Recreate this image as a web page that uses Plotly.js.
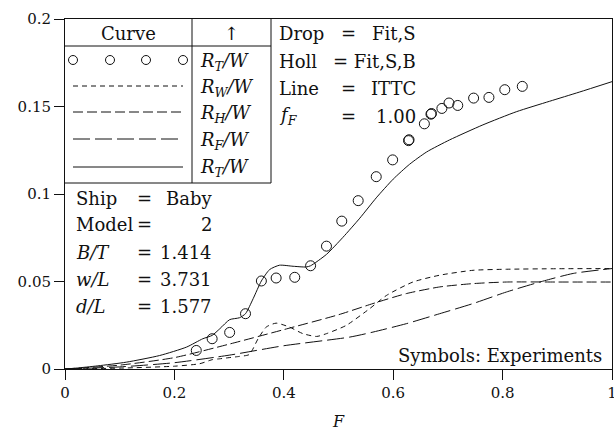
<!DOCTYPE html>
<html><head><meta charset="utf-8">
<script src="https://cdn.plot.ly/plotly-3.0.1.min.js"></script>
<style>body{margin:0;background:#fff}#c{width:614px;height:435px}</style>
</head><body><div id="c"></div>
<script>
// ---- data ----
const expF = [0.240, 0.269, 0.301, 0.330, 0.359, 0.386, 0.420, 0.449, 0.478, 0.506, 0.536, 0.569, 0.599, 0.628, 0.629, 0.657, 0.669, 0.670, 0.689, 0.702, 0.718, 0.747, 0.775, 0.804, 0.836];
const expR = [0.0106, 0.0173, 0.0209, 0.0316, 0.0503, 0.0520, 0.0524, 0.0590, 0.0702, 0.0845, 0.0962, 0.1099, 0.1195, 0.1305, 0.1310, 0.1401, 0.1456, 0.1460, 0.1489, 0.1520, 0.1506, 0.1548, 0.1552, 0.1596, 0.1615];

const totF = [0, 0.02, 0.06, 0.112, 0.173, 0.222, 0.252, 0.269, 0.283, 0.301, 0.319, 0.330, 0.344, 0.359, 0.374, 0.392, 0.417, 0.441, 0.449, 0.478, 0.508, 0.539, 0.569, 0.600, 0.630, 0.661, 0.703, 0.764, 0.825, 0.886, 0.940, 1.0];
const totR = [0, 0.0005, 0.0018, 0.0039, 0.0077, 0.0125, 0.0173, 0.0192, 0.0230, 0.0282, 0.0293, 0.0316, 0.0402, 0.0503, 0.0568, 0.0593, 0.0587, 0.0583, 0.0590, 0.0655, 0.0752, 0.0862, 0.0978, 0.1085, 0.1170, 0.1240, 0.1309, 0.1395, 0.1470, 0.1530, 0.1582, 0.1642];

const rwF = [0, 0.1, 0.2, 0.246, 0.27, 0.282, 0.30, 0.319, 0.337, 0.353, 0.368, 0.386, 0.41, 0.435, 0.46, 0.478, 0.514, 0.557, 0.588, 0.636, 0.685, 0.746, 0.807, 0.9, 1.0];
const rwR = [0, 0.0005, 0.0016, 0.0030, 0.0054, 0.0058, 0.0065, 0.0072, 0.0083, 0.0173, 0.0240, 0.0262, 0.0240, 0.0202, 0.0186, 0.0202, 0.0249, 0.0345, 0.0421, 0.0497, 0.0536, 0.0564, 0.0570, 0.0573, 0.0574];

const rhF = [0, 0.1, 0.2, 0.3, 0.4, 0.5, 0.563, 0.624, 0.685, 0.746, 0.807, 0.9, 1.0];
const rhR = [0, 0.0022, 0.0065, 0.0142, 0.0225, 0.0310, 0.0374, 0.0431, 0.0469, 0.0488, 0.0497, 0.0497, 0.0497];

const rfF = [0, 0.1, 0.2, 0.3, 0.4, 0.52, 0.563, 0.624, 0.685, 0.746, 0.807, 0.868, 0.929, 1.0];
const rfR = [0, 0.0012, 0.0036, 0.0079, 0.0133, 0.0182, 0.0211, 0.0259, 0.0316, 0.0374, 0.0440, 0.0497, 0.0546, 0.0574];

const legendLabels = ['<i>R</i><sub><i>T</i></sub><i>/W</i>', '<i>R</i><sub><i>W</i></sub><i>/W</i>', '<i>R</i><sub><i>H</i></sub><i>/W</i>', '<i>R</i><sub><i>F</i></sub><i>/W</i>', '<i>R</i><sub><i>T</i></sub><i>/W</i>'];
const rightNames = ['Drop', 'Holl', 'Line', '<i>f</i><sub><i>F</i></sub>'];
const rightVals = ['Fit,S', '= Fit,S,B', 'ITTC', '1.00'];
const leftNames = ['Ship', 'Model', '<i>B/T</i>', '<i>w/L</i>', '<i>d/L</i>'];
const leftVals = ['Baby', '2', '1.414', '3.731', '1.577'];

// ---- layout helpers (pixel -> paper) ----
const L = 65, R = 2, T = 19, B = 66, W = 614, H = 435;
const pw = W - L - R, ph = H - T - B;
const px = v => (v - L) / pw;
const py = v => (H - B - v) / ph;
const FONT = 'DejaVu Serif';
const col = '#111';

const dashW = '5px,4px', dashH = '10px,4px', dashF = '17px,5px';

const traces = [
  {x: totF, y: totR, mode: 'lines', line: {color: col, width: 1, shape: 'spline', smoothing: 0.6}, hoverinfo: 'skip'},
  {x: rwF, y: rwR, mode: 'lines', line: {color: col, width: 1, dash: dashW, shape: 'spline', smoothing: 0.6}, hoverinfo: 'skip'},
  {x: rhF, y: rhR, mode: 'lines', line: {color: col, width: 1, dash: dashH, shape: 'spline', smoothing: 0.6}, hoverinfo: 'skip'},
  {x: rfF, y: rfR, mode: 'lines', line: {color: col, width: 1, dash: dashF, shape: 'spline', smoothing: 0.6}, hoverinfo: 'skip'},
  {x: expF, y: expR, mode: 'markers', marker: {symbol: 'circle-open', size: 10, color: col, line: {width: 1, color: col}}, hoverinfo: 'skip'}
];

const shapes = [];
const line = (x0, y0, x1, y1, dash) => shapes.push({type: 'line', xref: 'paper', yref: 'paper', x0: px(x0), y0: py(y0), x1: px(x1), y1: py(y1), line: {color: col, width: 1, dash: dash || 'solid'}});
// table frame
line(192, 19, 192, 183);
line(271, 19, 271, 183);
line(65, 46, 271, 46);
line(65, 183, 271, 183);
// legend samples
[73, 110, 146, 183].forEach(cx => shapes.push({type: 'circle', xref: 'paper', yref: 'paper', xsizemode: 'pixel', ysizemode: 'pixel', xanchor: px(cx), yanchor: py(60), x0: -4.5, x1: 4.5, y0: -4.5, y1: 4.5, line: {color: col, width: 1}}));
line(73, 86, 183, 86, dashW);
line(73, 112, 183, 112, dashH);
line(73, 139, 183, 139, dashF);
line(73, 167, 183, 167);

const annotations = [];
const ann = (text, x, y, xa, size) => annotations.push({text: text, xref: 'paper', yref: 'paper', x: px(x), y: py(y), xanchor: xa, yanchor: 'middle', showarrow: false, font: {family: FONT, size: size || 18, color: col}});
ann('Curve', 128, 33, 'center');
ann('↑', 231, 33, 'center');
const rowY = [62, 88, 114, 141, 168];
legendLabels.forEach((t, i) => ann(t, 198, rowY[i], 'left'));
const rY = [34, 61, 88, 116];
rightNames.forEach((t, i) => ann(t, 277, rY[i], 'left'));
rightVals.forEach((t, i) => { ann(t, 418, rY[i], 'right'); if (i !== 1) ann('=', 348, rY[i], 'center'); });
const lY = [198, 225, 252, 279, 306];
leftNames.forEach((t, i) => ann(t, 74, lY[i], 'left'));
leftVals.forEach((t, i) => { ann(t, 214, lY[i], 'right'); ann('=', 144, lY[i], 'center'); });
ann('Symbols: Experiments', 604, 355, 'right');

const axisCommon = {showline: true, mirror: true, linecolor: col, linewidth: 1, ticks: 'outside', ticklen: 10, tickcolor: col, tickwidth: 1, showgrid: false, zeroline: false, ticklabeloverflow: 'allow', tickfont: {family: FONT, size: 15, color: col}};

const layout = {
  width: W, height: H, margin: {l: L, r: R, t: T, b: B},
  paper_bgcolor: '#fff', plot_bgcolor: '#fff', showlegend: false,
  xaxis: Object.assign({}, axisCommon, {range: [0, 1], dtick: 0.2, tick0: 0, title: {text: '<i>F</i>', font: {family: FONT, size: 16, color: col}, standoff: 14}}),
  yaxis: Object.assign({}, axisCommon, {range: [0, 0.2], dtick: 0.05, tick0: 0}),
  shapes: shapes, annotations: annotations
};

Plotly.newPlot('c', traces, layout, {staticPlot: true});
</script></body></html>
